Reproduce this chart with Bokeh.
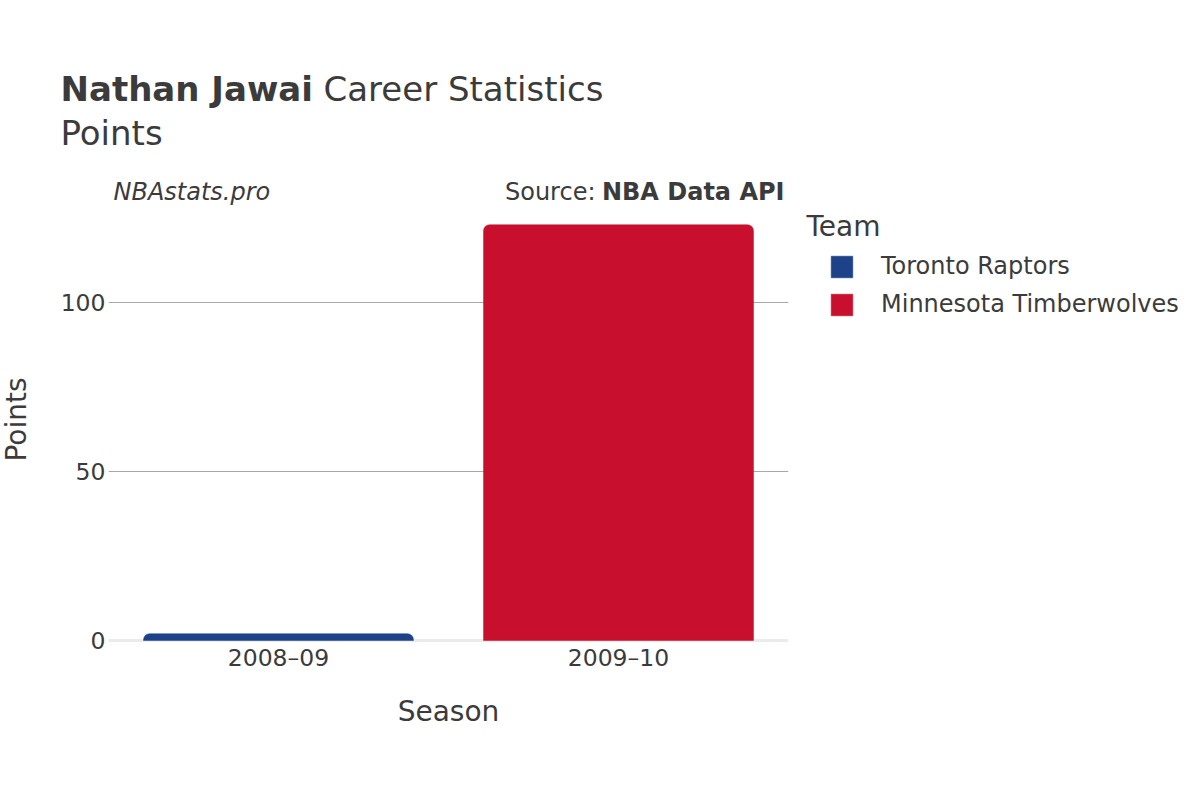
import math
from bokeh.plotting import figure
from bokeh.models import (Range1d, FactorRange, Label, Legend, LegendItem, Span,
                          ColumnDataSource, FixedTicker)
from bokeh.embed import file_html
from bokeh.resources import INLINE

# ---- data ----
seasons = ["2008–09", "2009–10"]
teams = ["Toronto Raptors", "Minnesota Timberwolves"]
points = [2, 123]
colors = ["#1d428a", "#c8102e"]
y_ticks = [0, 50, 100]

FONT = "DejaVu Sans"
TXT = "#3b3b3b"

p = figure(frame_width=680, frame_height=473,
           x_range=FactorRange(*seasons), y_range=Range1d(-0.89, 139.05),
           output_backend="svg", toolbar_location=None,
           min_border_left=108, min_border_right=412,
           min_border_top=170, min_border_bottom=157)
p.title.visible = False
p.outline_line_color = None
p.background_fill_color = "white"
p.border_fill_color = "white"

# zero line
p.add_layout(Span(location=0, dimension="width", line_color="#ebebeb",
                  line_width=3, level="underlay"))

renderers = []
for i in range(len(seasons)):
    s = ColumnDataSource(dict(season=[seasons[i]], pts=[points[i]], color=[colors[i]]))
    r = p.vbar(x="season", top="pts", bottom=0, width=0.794, source=s,
               fill_color="color", line_color="color", line_width=0.5,
               border_radius=(6, 6, 0, 0))
    renderers.append(r)

# axes
p.yaxis.ticker = FixedTicker(ticks=y_ticks)
for ax in (p.xaxis, p.yaxis):
    ax.axis_line_color = None
    ax.major_tick_line_color = None
    ax.minor_tick_line_color = None
    ax.major_label_text_font = FONT
    ax.major_label_text_font_size = "23.5px"
    ax.major_label_text_color = TXT
    ax.axis_label_text_font = FONT
    ax.axis_label_text_font_size = "28px"
    ax.axis_label_text_font_style = "normal"
    ax.axis_label_text_color = TXT
p.yaxis.major_label_standoff = -3
p.xaxis.major_label_standoff = -6
p.xaxis.axis_label = "Season"
p.xaxis.axis_label_standoff = 20

p.xgrid.grid_line_color = None
p.ygrid.ticker = FixedTicker(ticks=[50, 100])
p.ygrid.grid_line_color = "#a8a8a8"
p.ygrid.grid_line_width = 1

# legend (right panel; coords relative to the panel: x from its left, y from its bottom)
legend = Legend(items=[LegendItem(label=teams[i], renderers=[renderers[i]]) for i in range(len(teams))],
                location=(40, 320), orientation="vertical",
                border_line_color=None, background_fill_alpha=0,
                padding=0, margin=0, spacing=0,
                glyph_width=27, glyph_height=27, label_height=38,
                label_standoff=26,
                label_text_font=FONT, label_text_font_size="24px",
                label_text_color=TXT)
p.add_layout(legend, "right")


def mk(text, x, y, size, style="normal", align="left", baseline="alphabetic", angle=0.0):
    return Label(text=text, x=x, y=y, x_units="screen", y_units="screen",
                 text_font=FONT, text_font_size=size, text_font_style=style,
                 text_color=TXT, text_align=align, text_baseline=baseline,
                 angle=angle)

# annotations inside the frame (frame-relative: x = ref_x - 108, y = 643 - ref_y)
p.add_layout(mk("NBAstats.pro", 5, 452, "24px", "italic"))
p.add_layout(mk("NBA Data API", 676, 452, "24px", "bold", align="right"))
p.add_layout(mk("Source:", 487, 452, "24px", align="right"))

# stacked "above" panels (closest to the frame first)
H1, H2 = 33, 40
p.add_layout(mk("Team", 698, 170 - 236 + 10, "28px"), "above")
p.add_layout(mk("Points", -48, 170 - H1 - 145 + 13, "34px"), "above")
p.add_layout(mk("Career Statistics", 215, 170 - H1 - H2 - 101 + 13, "34px"), "above")
p.add_layout(mk("Nathan Jawai", -48, 170 - H1 - 2 * H2 - 101 + 13, "34px", "bold"), "above")

# y-axis title in its own left panel (outside the tick labels)
p.add_layout(mk("Points", -8, 643 - 419, "28px", align="center", baseline="middle",
                angle=math.pi / 2), "left")

open("out.html", "w").write(file_html(p, INLINE))
